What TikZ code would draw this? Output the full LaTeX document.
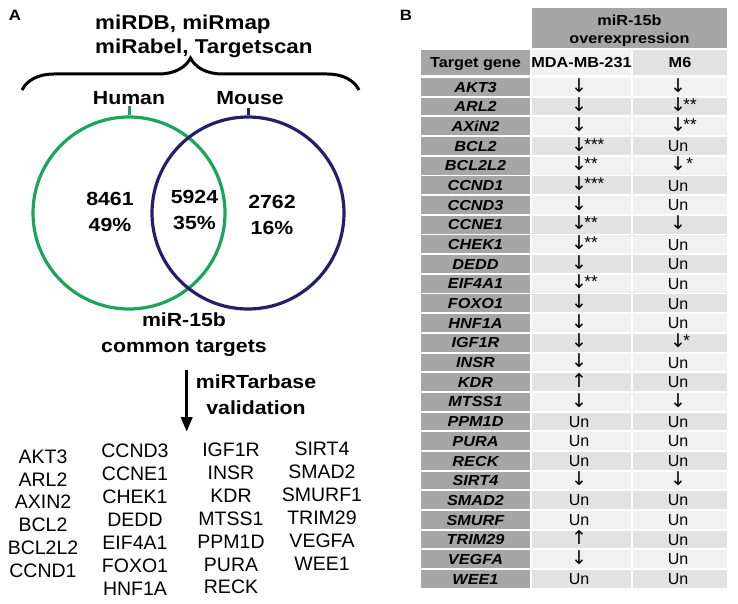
\documentclass[tikz,border=0pt]{standalone}
\usepackage{fontspec}
\setmainfont{Liberation Sans}
\newfontfamily\widefont[FakeStretch=1.12]{Liberation Sans}
\newfontfamily\arrowfont{DejaVu Sans}
\usetikzlibrary{arrows.meta,decorations.pathreplacing}
\definecolor{humangreen}{HTML}{1BA55B}
\definecolor{mouseblue}{HTML}{241F6B}
\definecolor{headgray}{HTML}{A6A6A6}
\definecolor{rowlight}{HTML}{F1F1F1}
\definecolor{rowdark}{HTML}{E2E2E2}
\tikzset{
  panellabel/.style={font=\widefont\bfseries\fontsize{15}{15}\selectfont, inner sep=0},
  venntext/.style={font=\widefont\bfseries\fontsize{19}{26}\selectfont, inner sep=0, align=center},
  genelist/.style={font=\fontsize{19.5}{22.9}\selectfont, inner sep=0, align=center, anchor=north},
  headcell/.style={font=\widefont\bfseries\fontsize{14.5}{17.5}\selectfont, inner sep=0, align=center},
  genecell/.style={font=\widefont\bfseries\itshape\fontsize{14.5}{14.5}\selectfont, inner sep=0, text height=10.4pt, text depth=0pt},
  valuecell/.style={font=\fontsize{16}{16}\selectfont, inner sep=0, text height=11.5pt, text depth=0pt},
  vennset/.style={circle, draw, line width=3.2pt, minimum size=192pt, inner sep=0},
}
\def\godown{{\arrowfont\fontsize{19}{19}\selectfont\raisebox{0.5pt}{↓}}}
\def\goup{{\arrowfont\fontsize{19}{19}\selectfont\raisebox{0.5pt}{↑}}}
\def\stars#1{\rlap{\kern-2.5pt\raisebox{1.5pt}{\fontsize{17}{17}\selectfont #1}}}
% one row of table B: index, gene, MDA-MB-231, M6
\def\generow(#1:#2:#3:#4){%
  \pgfmathsetmacro\rowtop{78+#1*19.68}%
  \ifodd#1 \def\rowshade{rowdark}\else\def\rowshade{rowlight}\fi
  \fill[headgray] (421,\rowtop) rectangle (530,{\rowtop+17.8});
  \fill[fill=\rowshade] (532,\rowtop) rectangle (631,{\rowtop+17.8});
  \fill[fill=\rowshade] (633,\rowtop) rectangle (727,{\rowtop+17.8});
  \node[genecell] (gene-#1) at (475.5,{\rowtop+8.9}) {#2};
  \node[valuecell] (mda-#1) at (579,{\rowtop+8.9}) {#3};
  \node[valuecell] (msix-#1) at (678,{\rowtop+8.9}) {#4};
}

\begin{document}
\begin{tikzpicture}[x=1pt,y=-1pt]
	\useasboundingbox (0,0) rectangle (738,604);
	%%%%% PANEL A %%%%%
	\node[panellabel] (label-a) at (15,15) {A};
	\node[venntext, font=\widefont\bfseries\fontsize{20}{23.5}\selectfont, align=left, anchor=north west] (sources) at (95,15) {miRDB, miRmap\\miRabel, Targetscan};
	
	\coordinate (brace-left) at (22,90);
	\coordinate (brace-right) at (359,90);
	\draw[line width=3pt, decorate, decoration={brace, amplitude=32pt}] (brace-left) -- (brace-right);
	
	\node[venntext, anchor=base] (human) at (129,105) {Human};
	\node[venntext, anchor=base] (mouse) at (250,105) {Mouse};
	
	\node[vennset, draw=humangreen] (human-set) at (129,213) {};
	\node[vennset, draw=mouseblue] (mouse-set) at (248,213) {};
	\draw[humangreen, line width=3pt] (human-set.north) -- ++(0,-9.5);
	\draw[mouseblue, line width=3pt] (mouse-set.north) -- ++(0,-7);
	
	\node[venntext, anchor=north] (only-human) at (110,191.7) {8461\\49\%};
	\node[venntext, anchor=north] (both) at (194.5,190) {5924\\35\%};
	\node[venntext, anchor=north] (only-mouse) at (272,195.3) {2762\\16\%};
	
	\node[venntext, anchor=north] (common) at (184,312.5) {miR-15b\\common targets};
	\coordinate (arrow-top) at (186.7,370);
	\coordinate (arrow-tip) at (186.7,432);
	\draw[line width=3.5pt, -{Triangle[length=15pt,width=11pt]}] (arrow-top) -- (arrow-tip);
	\node[venntext, anchor=north] (validation) at (256,375) {miRTarbase\\validation};
	
	\node[genelist] (list-one) at (43,449.3) {AKT3\\ARL2\\AXIN2\\BCL2\\BCL2L2\\CCND1};
	\node[genelist] (list-two) at (135,444) {CCND3\\CCNE1\\CHEK1\\DEDD\\EIF4A1\\FOXO1\\HNF1A};
	\node[genelist] (list-three) at (231,442.7) {IGF1R\\INSR\\KDR\\MTSS1\\PPM1D\\PURA\\RECK};
	\node[genelist] (list-four) at (322,441.7) {SIRT4\\SMAD2\\SMURF1\\TRIM29\\VEGFA\\WEE1};
	
	%%%%% PANEL B %%%%%
	\node[panellabel] (label-b) at (406,15) {B};
	\fill[headgray] (532,8) rectangle (727,48);
	\node[headcell, anchor=north] (overexp) at (629.5,15) {miR-15b\\overexpression};
	\fill[headgray] (421,50) rectangle (530,75);
	\fill[rowlight] (532,50) rectangle (631,75);
	\fill[rowdark] (633,50) rectangle (727,75);
	\node[headcell, text height=10.4pt, text depth=0pt] (head-gene) at (475.5,62.5) {Target gene};
	\node[headcell, text height=10.4pt, text depth=0pt] (head-mda) at (581.5,62.5) {MDA-MB-231};
	\node[headcell, text height=10.4pt, text depth=0pt] (head-msix) at (680,62.5) {M6};
	
	\generow(0:AKT3:\godown:\godown)
	\generow(1:ARL2:\godown:\godown\stars{**})
	\generow(2:AXiN2:\godown:\godown\stars{**})
	\generow(3:BCL2:\godown\stars{***}:Un)
	\generow(4:BCL2L2:\godown\stars{**}:\godown\stars{\,*})
	\generow(5:CCND1:\godown\stars{***}:Un)
	\generow(6:CCND3:\godown:Un)
	\generow(7:CCNE1:\godown\stars{**}:\godown)
	\generow(8:CHEK1:\godown\stars{**}:Un)
	\generow(9:DEDD:\godown:Un)
	\generow(10:EIF4A1:\godown\stars{**}:Un)
	\generow(11:FOXO1:\godown:Un)
	\generow(12:HNF1A:\godown:Un)
	\generow(13:IGF1R:\godown:\godown\stars{*})
	\generow(14:INSR:\godown:Un)
	\generow(15:KDR:\goup:Un)
	\generow(16:MTSS1:\godown:\godown)
	\generow(17:PPM1D:Un:Un)
	\generow(18:PURA:Un:Un)
	\generow(19:RECK:Un:Un)
	\generow(20:SIRT4:\godown:\godown)
	\generow(21:SMAD2:Un:Un)
	\generow(22:SMURF:Un:Un)
	\generow(23:TRIM29:\goup:Un)
	\generow(24:VEGFA:\godown:Un)
	\generow(25:WEE1:Un:Un)
\end{tikzpicture}
\end{document}
